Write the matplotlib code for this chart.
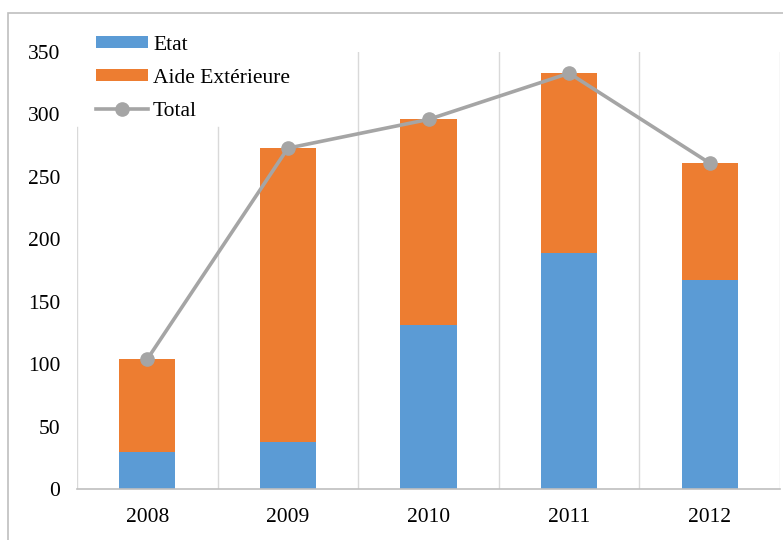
import numpy as np
import matplotlib.pyplot as plt
from matplotlib.patches import Rectangle

annees = ['2008', '2009', '2010', '2011', '2012']
etat = [30, 38, 131, 189, 167]
aide_ext = [74, 235, 165, 144, 94]
total = [104, 273, 296, 333, 261]

bleu = '#5B9BD5'
orange = '#ED7D31'
gris = '#A5A5A5'

plt.rcParams['font.family'] = ['Liberation Serif', 'DejaVu Serif']

fig = plt.figure(figsize=(7.83, 5.40), dpi=100)
ax = fig.add_axes([77 / 783, 1 - 489 / 540, 703 / 783, 437 / 540])

x = np.arange(len(annees))
b1 = ax.bar(x, etat, width=0.4, color=bleu, label='Etat', zorder=2)
b2 = ax.bar(x, aide_ext, width=0.4, bottom=etat, color=orange, label='Aide Extérieure', zorder=2)
l1, = ax.plot(x, total, color=gris, lw=2.6, marker='o', ms=9.5, label='Total', zorder=3)

ax.set_xlim(-0.5, len(annees) - 0.5)
ax.set_ylim(0, 350)
ax.set_yticks(range(0, 351, 50))
ax.set_xticks(x)
ax.set_xticklabels(annees)

# separateurs verticaux entre les annees (coupés sous la légende)
for b in np.arange(-0.5, len(annees), 1.0):
    haut = 290 / 350 if b < 1 else 1
    ax.axvline(b, ymax=haut, color='#D9D9D9', lw=1, zorder=1)

for s in ['top', 'right', 'left']:
    ax.spines[s].set_visible(False)
ax.spines['bottom'].set_color('#BFBFBF')
ax.spines['bottom'].set_linewidth(1.2)
ax.tick_params(axis='both', length=0, labelsize=15.5)
ax.tick_params(axis='y', pad=12)
ax.tick_params(axis='x', pad=14)

leg = ax.legend([b1, b2, l1], ['Etat', 'Aide Extérieure', 'Total'],
                loc='upper left', bbox_to_anchor=(96 / 783, 1 - 36 / 540),
                bbox_transform=fig.transFigure, fontsize=15.5, frameon=False,
                handlelength=2.4, handleheight=0.5, labelspacing=0.65,
                handletextpad=0.25, borderpad=0, borderaxespad=0)

# cadre du graphique
fig.patches.append(Rectangle((8 / 783, -0.1), 1.2, 1.1 - 13 / 540, transform=fig.transFigure,
                             fill=False, edgecolor='#BFBFBF', lw=1.2))

fig.savefig('out.png', dpi=100)
